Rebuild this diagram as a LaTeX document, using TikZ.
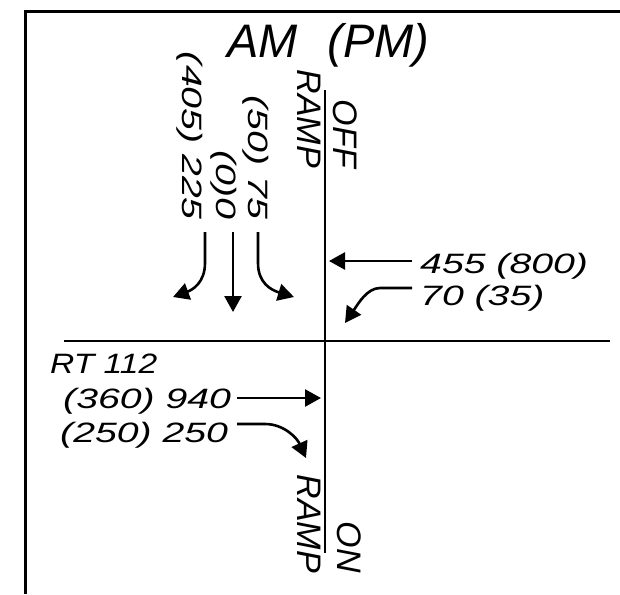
\documentclass[tikz,border=0pt]{standalone}
\usepackage{fontspec}
\setmainfont{Liberation Sans}
\newfontfamily\cadfont{Liberation Sans}
\newfontfamily\cadnum{Liberation Sans}[FakeStretch=1.4]
\newfontfamily\cadmid{Liberation Sans}[FakeStretch=1.2]
\usetikzlibrary{arrows.meta}
\begin{document}
\begin{tikzpicture}[x=1pt,y=-1pt,
  frameline/.style={line width=3pt},
  roadline/.style={line width=2.6pt},
  flow/.style={line width=2.6pt,-{Triangle[length=16pt,width=17pt]}},
  titletext/.style={inner sep=0pt,font=\cadfont\itshape\fontsize{47}{47}\selectfont},
  numtext/.style={inner sep=0pt,font=\cadnum\itshape\fontsize{28}{28}\selectfont},
  rttext/.style={inner sep=0pt,font=\cadmid\itshape\fontsize{28}{28}\selectfont},
  vnumtext/.style={inner sep=0pt,rotate=-90,anchor=base east,font=\cadnum\itshape\fontsize{28}{28}\selectfont},
  ramptext/.style={inner sep=0pt,rotate=-90,anchor=base east,font=\cadfont\itshape\fontsize{34}{34}\selectfont}]
\fill[white] (0,0) rectangle (620,594);
\useasboundingbox (0,0) rectangle (620,594);

% frame
\draw[frameline] (25.5,594) -- (25.5,12) -- (620,12);

% roads
\coordinate (vtop) at (325,90);
\coordinate (vbot) at (325,553);
\coordinate (hleft) at (64,341);
\coordinate (hright) at (610,341);
\draw[roadline] (vtop) -- (vbot);
\draw[roadline] (hleft) -- (hright);

% title
\node[titletext,anchor=base west] (title) at (227,57) {AM\hspace{30pt}(PM)};

% ramp labels
\node[ramptext] (offramp) at (297,168) {RAMP};
\node[ramptext] (offlbl) at (333,168) {OFF};
\node[ramptext] (onramp) at (297,573) {RAMP};
\node[ramptext] (onlbl) at (337,573) {ON};

% southbound volumes (vertical)
\node[vnumtext] (v225) at (182,220) {(405) 225};
\node[vnumtext] (v0) at (216,220) {(0)0};
\node[vnumtext] (v75) at (248,220) {(50) 75};

% westbound volumes
\node[numtext,anchor=base west] (w455) at (420,273) {455 (800)};
\node[numtext,anchor=base west] (w70) at (420,305) {70 (35)};

% eastbound volumes
\node[rttext,anchor=base west] (rt) at (50,373) {RT 112};
\node[numtext,anchor=base west] (e940) at (63,408) {(360) 940};
\node[numtext,anchor=base west] (e250) at (60,442) {(250) 250};

% arrow coordinates
\coordinate (a225s) at (205,232);
\coordinate (a225m) at (205,263);
\coordinate (a225t) at (173,297);
\coordinate (a0s) at (233,232);
\coordinate (a0t) at (233,312);
\coordinate (a75s) at (258,232);
\coordinate (a75m) at (258,263);
\coordinate (a75t) at (294,297);
\coordinate (a455s) at (412,261);
\coordinate (a455t) at (329,261);
\coordinate (a70s) at (412,288);
\coordinate (a70m) at (380,288);
\coordinate (a70t) at (345,323);
\coordinate (a940s) at (237,398);
\coordinate (a940t) at (321,398);
\coordinate (a250s) at (237,424);
\coordinate (a250m) at (265,424);
\coordinate (a250t) at (306,458);

% arrows
\draw[flow] (a225s) -- (a225m) .. controls (205,283) and (192,290) .. (a225t);
\draw[flow] (a0s) -- (a0t);
\draw[flow] (a75s) -- (a75m) .. controls (258,283) and (271,290) .. (a75t);
\draw[flow] (a455s) -- (a455t);
\draw[flow] (a70s) -- (a70m) .. controls (367,288) and (358,304) .. (a70t);
\draw[flow] (a940s) -- (a940t);
\draw[flow] (a250s) -- (a250m) .. controls (284,424) and (297,438) .. (a250t);
\end{tikzpicture}
\end{document}
